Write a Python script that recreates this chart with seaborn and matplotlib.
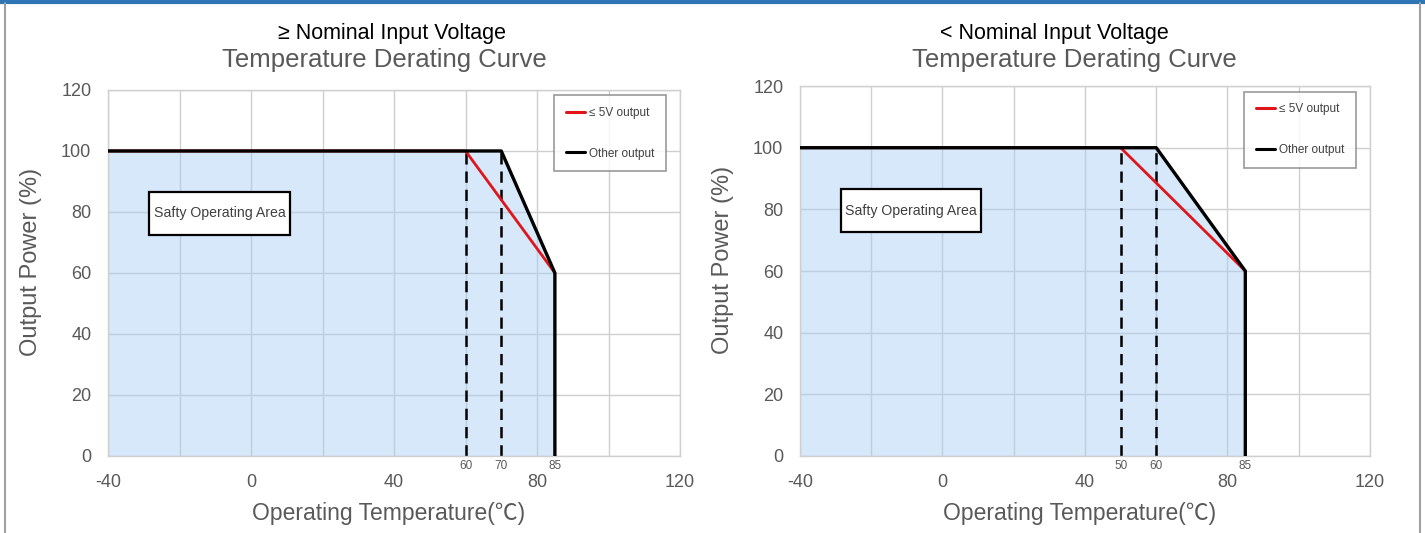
import numpy as np
import pandas as pd
import matplotlib
matplotlib.use("Agg")
import matplotlib.pyplot as plt
from matplotlib.lines import Line2D
from matplotlib.patches import Rectangle
from matplotlib.ticker import MultipleLocator, FuncFormatter
import seaborn as sns

# derating data
panel_titles = ["≥ Nominal Input Voltage", "< Nominal Input Voltage"]
knee_5v = [60, 50]        # start of derating, <=5V output
knee_other = [70, 60]     # start of derating, other outputs
t_min = -40
t_max = 85
p_full = 100
p_end = 60
series_names = ["≤ 5V output", "Other output"]
series_colors = ["#e0151b", "#000000"]

sns.set_style("white")
plt.rcParams["font.family"] = ["Liberation Sans", "Noto Sans CJK SC", "DejaVu Sans"]

GRAY = "#595959"
GRID = "#cfcfcf"

fig = plt.figure(figsize=(14.25, 5.33), dpi=100)

# page frame
fig.add_artist(Line2D([0, 1], [0.997, 0.997], color="#2e75b6", lw=3, transform=fig.transFigure))
fig.add_artist(Line2D([0.0035, 0.0035], [0.0, 0.995], color="#a0a0a0", lw=1.5, transform=fig.transFigure))
fig.add_artist(Line2D([0.9965, 0.9965], [0.0, 0.995], color="#a0a0a0", lw=1.5, transform=fig.transFigure))

axes_rects = [[0.0758, 0.1445, 0.4014, 0.6867], [0.5614, 0.1445, 0.4000, 0.6940]]
title1_x = [0.275, 0.740]
title2_x = [0.270, 0.754]

for i in range(2):
    ax = fig.add_axes(axes_rects[i])

    df = pd.DataFrame({
        "temp": [t_min, knee_5v[i], t_max, t_min, knee_other[i], t_max, t_max],
        "power": [p_full, p_full, p_end, p_full, p_full, p_end, 0],
        "series": [series_names[0]] * 3 + [series_names[1]] * 4,
    })
    other = df[df["series"] == series_names[1]]

    ax.fill_between(other["temp"], other["power"], 0, color="#a8cdf5", alpha=0.45,
                    lw=0, zorder=1)
    ax.vlines([knee_5v[i], knee_other[i]], 0, p_full, colors="black",
              linestyles=(0, (4.5, 2.8)), lw=1.8, zorder=2)

    sns.lineplot(data=df, x="temp", y="power", hue="series", hue_order=series_names,
                 palette=series_colors, sort=False, estimator=None, lw=2.0,
                 legend=False, ax=ax, zorder=3)
    ax.lines[-1].set_linewidth(2.4)

    ax.set_xlim(-40, 120)
    ax.set_ylim(0, 120)
    ax.xaxis.remove_overlapping_locs = False
    ax.xaxis.set_major_locator(MultipleLocator(20))
    ax.yaxis.set_major_locator(MultipleLocator(20))
    ax.xaxis.set_major_formatter(FuncFormatter(lambda v, p: f"{v:.0f}" if v % 40 == 0 else ""))
    ax.set_xticks([knee_5v[i], knee_other[i], t_max], minor=True)
    ax.set_xticklabels([str(knee_5v[i]), str(knee_other[i]), str(t_max)], minor=True)
    ax.grid(True, which="major", color=GRID, lw=1.0)
    ax.grid(False, which="minor")
    ax.set_axisbelow(True)
    ax.tick_params(axis="x", which="major", length=0, pad=13, labelsize=13, labelcolor=GRAY)
    ax.tick_params(axis="x", which="minor", length=0, pad=3, labelsize=8.5, labelcolor=GRAY)
    ax.tick_params(axis="y", length=0, pad=12, labelsize=13, labelcolor=GRAY)
    for s in ax.spines.values():
        s.set_color(GRID)
        s.set_linewidth(1.0)

    ax.set_xlabel("Operating Temperature(℃)", fontsize=16.5, color=GRAY)
    ax.xaxis.set_label_coords(0.49, -0.125)
    ax.set_ylabel("Output Power (%)", fontsize=17, color=GRAY)
    ax.yaxis.set_label_coords(-0.115, 0.53)

    # safe operating area label box
    ax.add_patch(Rectangle((-28.5, 72.6), 39.3, 14.0, facecolor="white",
                           edgecolor="black", lw=1.6, zorder=4))
    ax.text(-8.85, 79.6, "Safty Operating Area", ha="center", va="center",
            fontsize=10.2, color="#404040", zorder=5)

    handles = [Line2D([], [], color=c, lw=2.2) for c in series_colors]
    leg = ax.legend(handles, series_names, loc="upper right", bbox_to_anchor=(0.975, 0.985),
                    fontsize=8.5, frameon=True, fancybox=False, handlelength=1.6,
                    handletextpad=0.3, labelspacing=2.4, borderpad=1.0,
                    borderaxespad=0.0)
    leg.get_frame().set_edgecolor("#808080")
    leg.get_frame().set_linewidth(1.2)
    for t in leg.get_texts():
        t.set_color("#404040")

    fig.text(title1_x[i], 1 - 34 / 533, panel_titles[i], ha="center", va="center",
             fontsize=15.5, color="black")
    fig.text(title2_x[i], 1 - 60 / 533, "Temperature Derating Curve", ha="center",
             va="center", fontsize=18.5, color=GRAY)

fig.savefig("out.png", dpi=100)
